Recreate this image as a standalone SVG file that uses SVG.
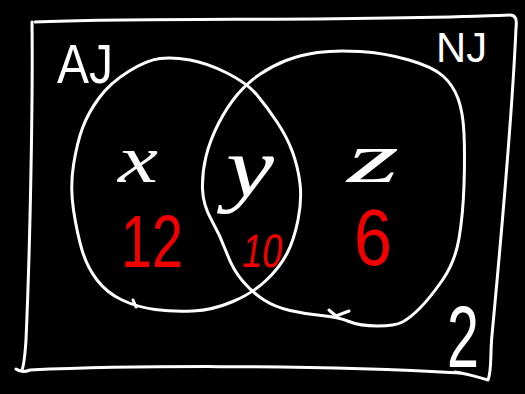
<svg xmlns="http://www.w3.org/2000/svg" width="525" height="394" viewBox="0 0 525 394">
<style>
.ink{fill:none;stroke:#fff;stroke-width:3;stroke-linecap:round;stroke-linejoin:round}
.lbl{fill:#fff;font-family:"Liberation Sans",Arial,sans-serif}
.var{fill:#fff;font-family:"Liberation Serif","Times New Roman",serif;font-style:italic}
.num{fill:#f20000;font-family:"Liberation Sans",Arial,sans-serif}
</style>
<rect width="525" height="394" fill="#000"/>
<g id="universe">
<path class="ink" d="M35,22 C150,17 350,22 510,15 C516,15 517,20 516,28 C512,120 500,250 492,335 C490,355 492,370 488,380 C480,378 470,374 455,372"/>
<path class="ink" d="M32,22 C33,100 30,250 26,340 C25,355 24,365 22,370 M16,369 C20,372 25,372 30,370 C120,366 300,364 460,373"/>
<text class="lbl" x="447" y="367" font-size="88" textLength="32" lengthAdjust="spacingAndGlyphs">2</text>
</g>
<g id="set-AJ">
<path class="ink" d="M160,58.5 Q173,57 190,60 Q207,63 227,73 Q247,83 257,95 Q267,107 277,122 Q287,137 292.5,152 Q298,167 300,183.5 Q302,200 298,220 Q294,240 287,253.5 Q280,267 266.5,280 Q253,293 233,301.5 Q213,310 193,311 Q173,312 155,309.5 Q137,307 122,300 Q107,293 97,280 Q87,267 82,250 Q77,233 73.5,210 Q70,187 73.5,165 Q77,143 82.5,128 Q88,113 99,98 Q110,83 128.5,71.5 Q147,60 160,58.5 Z M133,300 L136,307"/>
<text class="lbl" x="57" y="83" font-size="56" textLength="56" lengthAdjust="spacingAndGlyphs">AJ</text>
</g>
<g id="set-NJ">
<path class="ink" d="M237,95 Q247,83 259.5,74.5 Q272,66 286,60.5 Q300,55 317.5,52.5 Q335,50 360,51.5 Q385,53 409,60 Q433,67 443,76 Q453,85 458,98.5 Q463,112 464,133.5 Q465,155 464,185 Q463,215 459,238.5 Q455,262 442.5,280 Q430,298 420,308 Q410,318 402.5,322 Q395,326 377.5,326 Q360,326 349,321.5 Q338,317 321.5,315.5 Q305,314 290,310.5 Q275,307 264,300 Q253,293 243,281.5 Q233,270 226.5,252.5 Q220,235 211.5,220 Q203,205 202.5,189 Q202,173 206,156.5 Q210,140 218.5,123.5 Q227,107 237,95 Z M329,310 L336,316 L349,311"/>
<text class="lbl" x="436" y="62" font-size="42" textLength="51" lengthAdjust="spacingAndGlyphs">NJ</text>
</g>
<g id="region-x">
<text class="var" x="118" y="182" font-size="68" textLength="40" lengthAdjust="spacingAndGlyphs">x</text>
<text class="num" x="121" y="267" font-size="74" textLength="62" lengthAdjust="spacingAndGlyphs">12</text>
</g>
<g id="region-y">
<text class="var" x="226" y="196" font-size="84" textLength="48" lengthAdjust="spacingAndGlyphs">y</text>
<text class="num" x="242" y="267" font-size="47" textLength="40" lengthAdjust="spacingAndGlyphs" transform="skewX(-8) translate(36,0)">10</text>
</g>
<g id="region-z">
<text class="var" x="347" y="182" font-size="72" textLength="52" lengthAdjust="spacingAndGlyphs">z</text>
<text class="num" x="354" y="265" font-size="80" textLength="38" lengthAdjust="spacingAndGlyphs">6</text>
</g>
</svg>
